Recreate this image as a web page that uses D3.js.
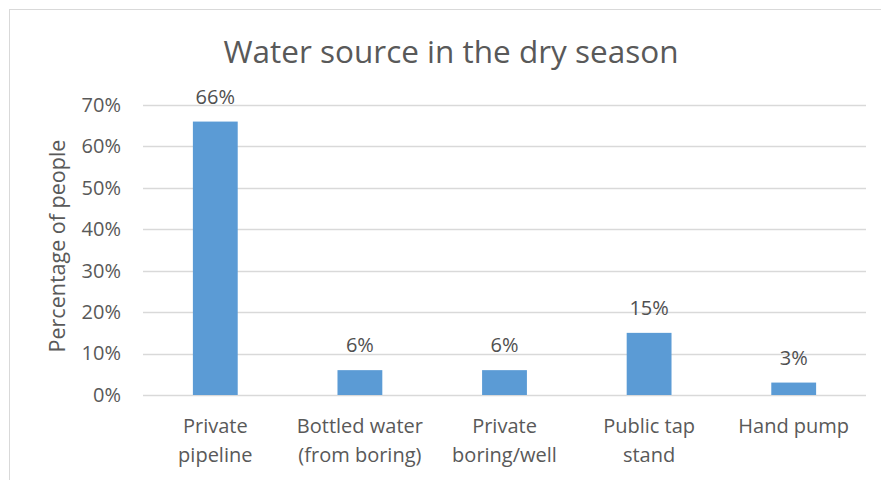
<!DOCTYPE html>
<html>
<head>
<meta charset="utf-8">
<script src="https://cdn.jsdelivr.net/npm/d3@7"></script>
<style>
  body { margin: 0; background: #fff; }
  svg { display: block; font-family: "Open Sans", "Noto Sans", sans-serif; }
</style>
</head>
<body>
<div id="chart"></div>
<script>
var categories = [
  ["Private", "pipeline"],
  ["Bottled water", "(from boring)"],
  ["Private", "boring/well"],
  ["Public tap", "stand"],
  ["Hand pump"]
];
var values = [0.66, 0.06, 0.06, 0.15, 0.03];
var yTicks = [0, 0.1, 0.2, 0.3, 0.4, 0.5, 0.6, 0.7];

var width = 881;
var height = 480;
var margin = { top: 105, right: 15, bottom: 85, left: 143 };

var svg = d3
  .select("#chart")
  .append("svg")
  .attr("width", width)
  .attr("height", height);

// chart frame
svg
  .append("rect")
  .attr("x", 9.5)
  .attr("y", 9.5)
  .attr("width", width + 20)
  .attr("height", height + 20)
  .attr("fill", "none")
  .attr("stroke", "#d9d9d9");

var x = d3
  .scaleBand()
  .domain(d3.range(categories.length))
  .range([margin.left, width - margin.right])
  .paddingInner(0.69)
  .paddingOuter(0.345);

var y = d3
  .scaleLinear()
  .domain([0, 0.7])
  .range([height - margin.bottom, margin.top]);

// gridlines
svg
  .append("g")
  .selectAll("line")
  .data(yTicks)
  .enter()
  .append("line")
  .attr("x1", margin.left)
  .attr("x2", width - margin.right)
  .attr("y1", function (d) {
    return Math.round(y(d)) + 0.5;
  })
  .attr("y2", function (d) {
    return Math.round(y(d)) + 0.5;
  })
  .attr("stroke", "#d9d9d9")
  .attr("stroke-width", 1.3);

// y axis labels
var yAxis = d3
  .axisLeft(y)
  .tickValues(yTicks)
  .tickFormat(d3.format(".0%"))
  .tickSize(0)
  .tickPadding(22);

svg
  .append("g")
  .attr("transform", "translate(" + margin.left + ",0)")
  .call(yAxis)
  .call(function (g) {
    g.select(".domain").remove();
  })
  .selectAll("text")
  .attr("fill", "#595959")
  .style("font-size", "20px")
  .style("font-family", "'Open Sans', sans-serif");

// bars
svg
  .append("g")
  .selectAll("rect")
  .data(values)
  .enter()
  .append("rect")
  .attr("x", function (d, i) {
    return x(i);
  })
  .attr("y", function (d) {
    return y(d);
  })
  .attr("width", x.bandwidth())
  .attr("height", function (d) {
    return y(0) - y(d);
  })
  .attr("fill", "#5b9bd5");

// value labels
svg
  .append("g")
  .selectAll("text")
  .data(values)
  .enter()
  .append("text")
  .attr("x", function (d, i) {
    return x(i) + x.bandwidth() / 2;
  })
  .attr("y", function (d) {
    return y(d) - 18;
  })
  .attr("text-anchor", "middle")
  .attr("fill", "#505050")
  .style("font-size", "20px")
  .text(function (d) {
    return d3.format(".0%")(d);
  });

// category labels
var catLabels = svg
  .append("g")
  .selectAll("text")
  .data(categories)
  .enter()
  .append("text")
  .attr("x", function (d, i) {
    return x(i) + x.bandwidth() / 2;
  })
  .attr("y", y(0) + 38)
  .attr("text-anchor", "middle")
  .attr("fill", "#595959")
  .style("font-size", "20px");

catLabels
  .selectAll("tspan")
  .data(function (d) {
    return d;
  })
  .enter()
  .append("tspan")
  .attr("x", function () {
    return d3.select(this.parentNode).attr("x");
  })
  .attr("dy", function (d, i) {
    return i === 0 ? 0 : 29;
  })
  .text(function (d) {
    return d;
  });

// title
svg
  .append("text")
  .attr("x", 451)
  .attr("y", 63)
  .attr("text-anchor", "middle")
  .attr("fill", "#595959")
  .style("font-size", "31.5px")
  .text("Water source in the dry season");

// y axis title
svg
  .append("text")
  .attr("transform", "translate(65,246) rotate(-90)")
  .attr("text-anchor", "middle")
  .attr("fill", "#595959")
  .style("font-size", "21.5px")
  .text("Percentage of people");
</script>
</body>
</html>
